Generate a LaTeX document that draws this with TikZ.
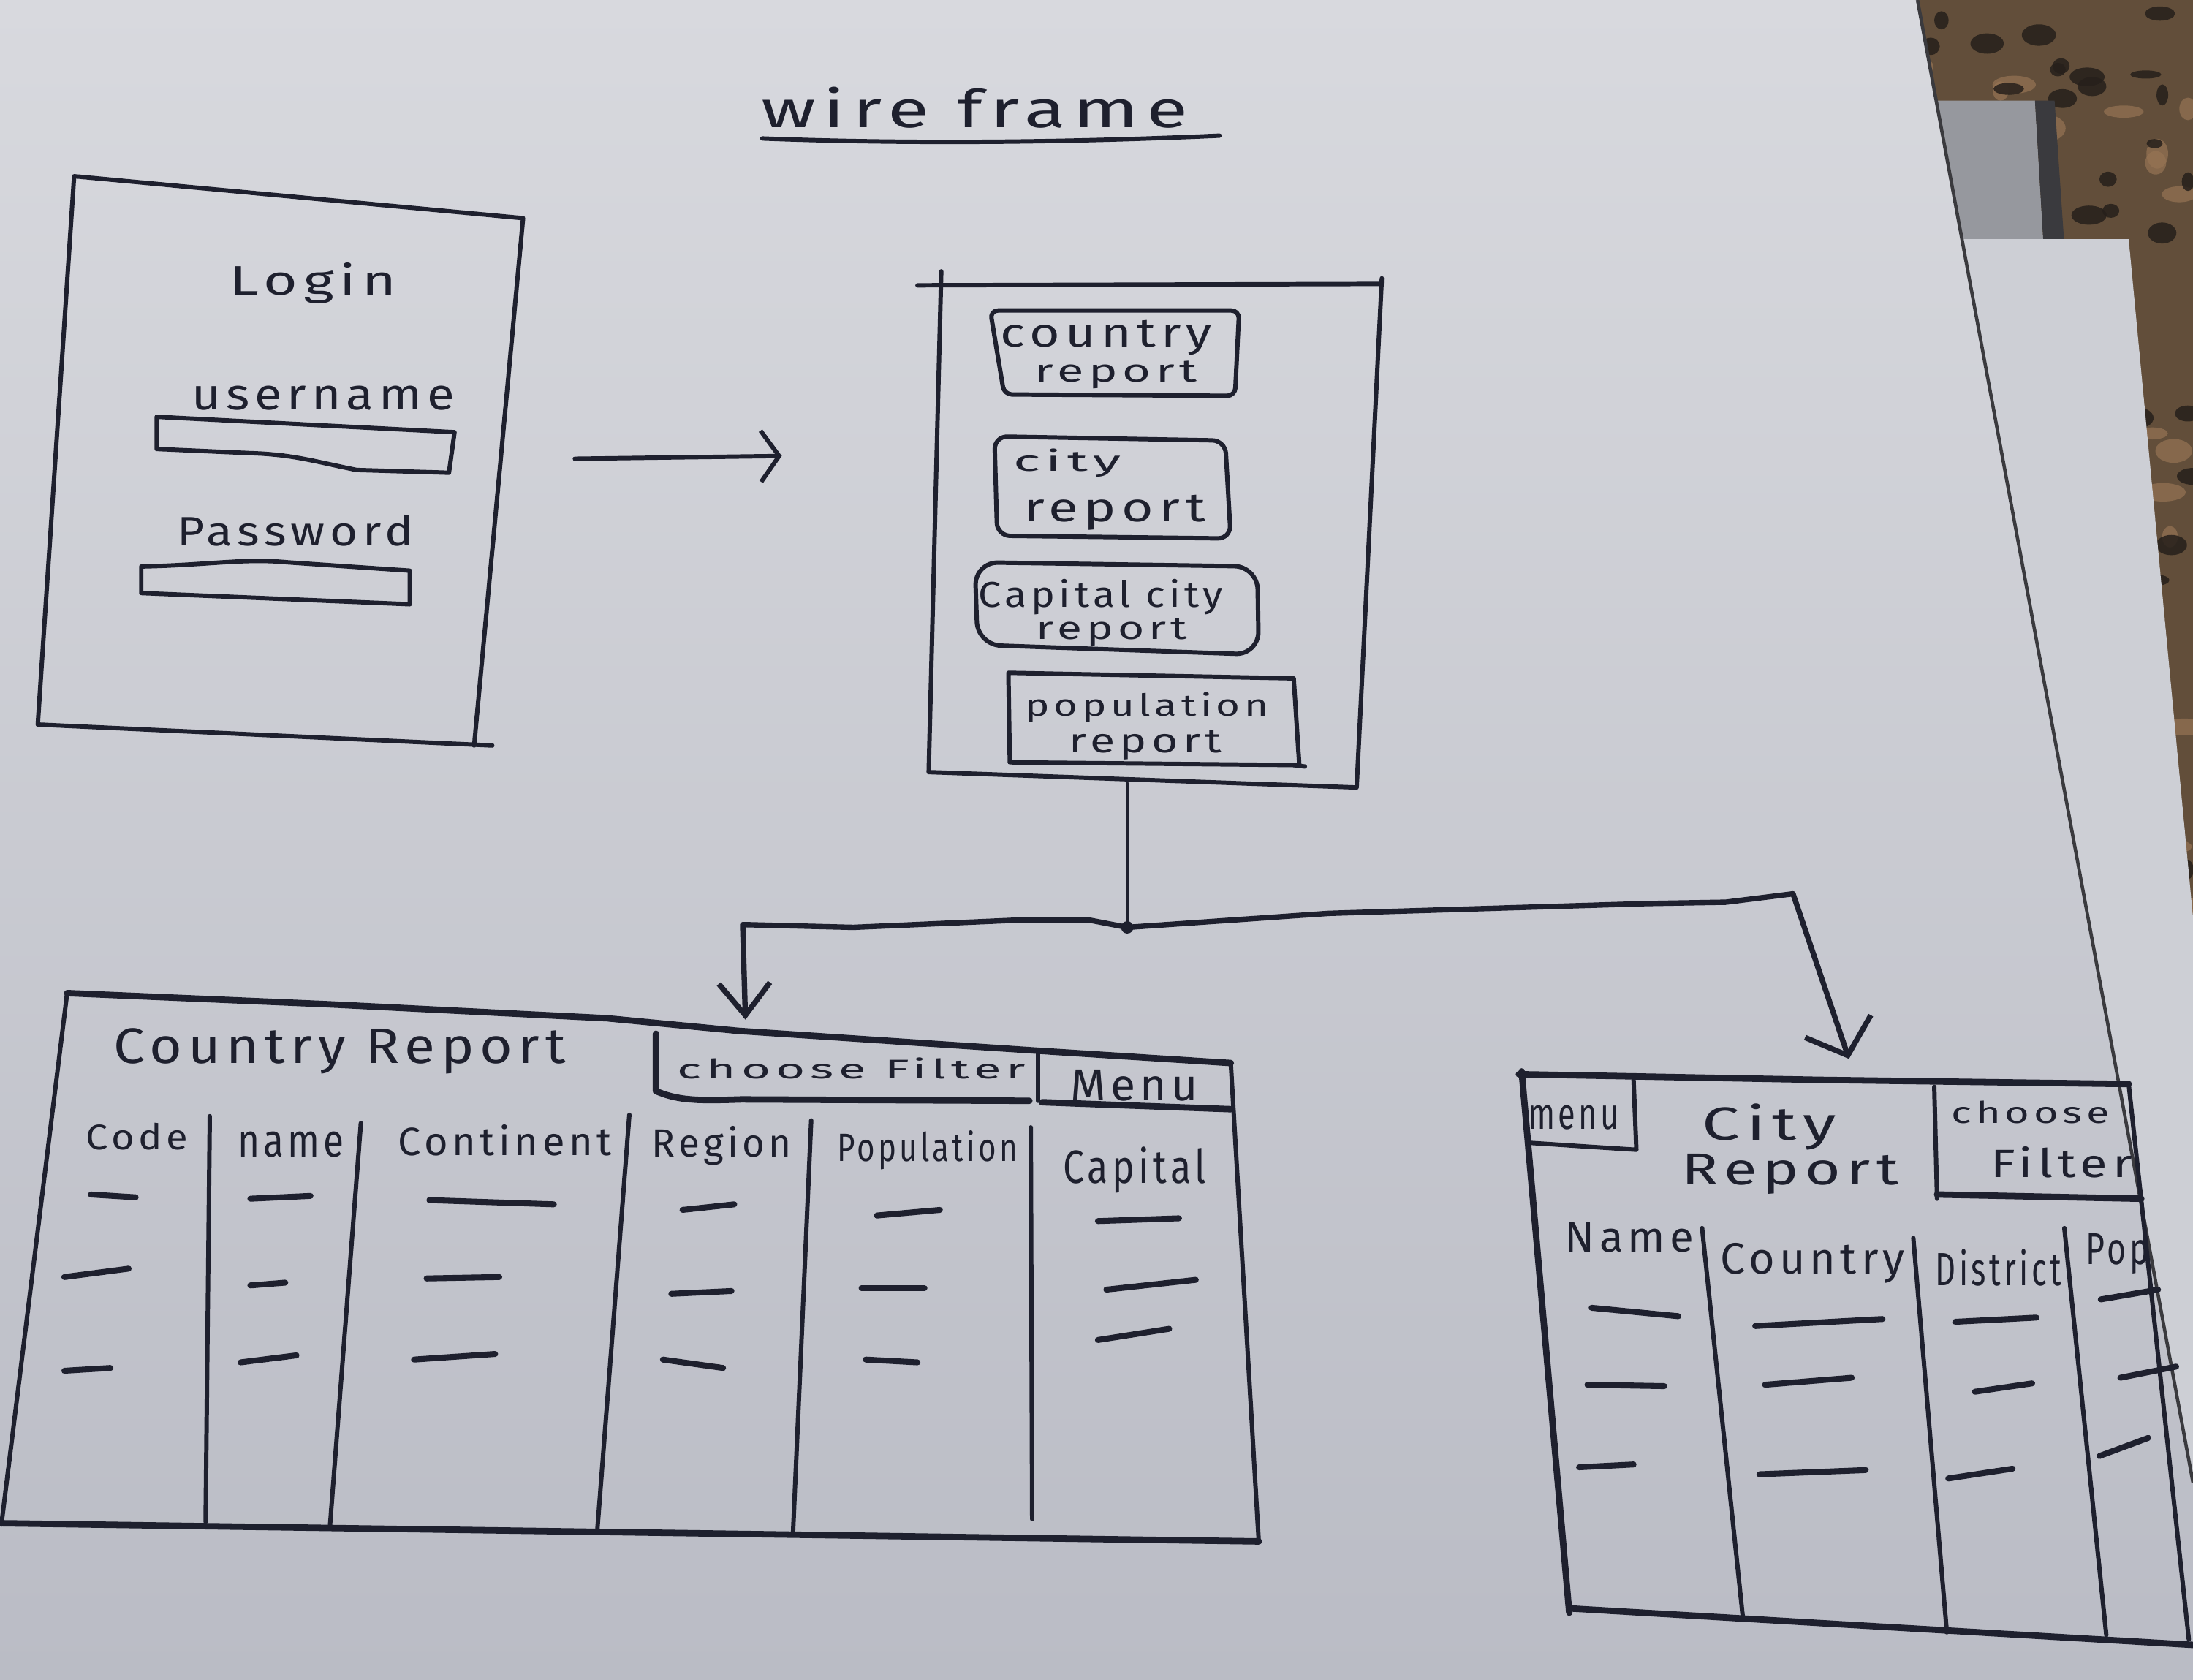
\documentclass[tikz,border=0pt]{standalone}
\usepackage{graphicx}
\usepackage{fontspec}
\setmainfont{Fira Sans}
\newfontfamily\handfont{Fira Sans}[LetterSpace=10]
\usetikzlibrary{arrows.meta}

% one unit of the drawing grid
\newlength\pxu
\setlength\pxu{0.019133cm}
% handwritten label squeezed into a given width and height (grid units)
\newcommand\hw[3]{\resizebox{#1\pxu}{#2\pxu}{\handfont #3}}

\definecolor{ink}{RGB}{30,32,46}
\definecolor{paperA}{RGB}{216,217,222}
\definecolor{paperB}{RGB}{186,188,197}
\definecolor{paperC}{RGB}{205,207,213}
\definecolor{granite}{RGB}{98,78,58}
\definecolor{granitedark}{RGB}{38,32,27}
\definecolor{granitelight}{RGB}{150,116,84}
\definecolor{stripgray}{RGB}{150,152,158}
\definecolor{edgegray}{RGB}{58,58,62}

\begin{document}
\begin{tikzpicture}[x=0.019133cm, y=-0.019133cm,
  pen/.style={draw=ink, line width=1.7pt, line cap=round, line join=round},
  heavypen/.style={pen, line width=2.5pt},
  hand/.style={inner sep=0pt, outer sep=0pt, text=ink, anchor=base},
  smallbarb/.style={-{Straight Barb[length=0.25cm, width=0.7cm]}},
  downbarb/.style={-{Straight Barb[length=0.44cm, width=0.7cm]}},
  widebarb/.style={-{Straight Barb[length=0.42cm, width=0.95cm]}}
]
\useasboundingbox (0,0) rectangle (1568,1201);

% ---------- countertop and the sheets underneath ----------
\fill[granite] (1340,0) rectangle (1568,1201);
\begin{scope}
  \clip (1340,0) rectangle (1568,760);
  \pgfmathsetseed{42}
  \foreach \i in {1,...,70}
    \fill[granitelight, opacity=0.7] ({1340+228*rnd},{760*rnd}) ellipse ({(3+6*rnd)*1pt} and {(2+4*rnd)*1pt});
  \foreach \i in {1,...,110}
    \fill[granitedark, opacity=0.85] ({1340+228*rnd},{760*rnd}) ellipse ({(2+5*rnd)*1pt} and {(1.5+3*rnd)*1pt});
\end{scope}
\fill[stripgray] (1375,72) -- (1455,72) -- (1462,190) -- (1375,190) -- cycle;
\fill[edgegray] (1455,72) -- (1469,72) -- (1477,190) -- (1462,190) -- cycle;
\fill[paperC] (1380,171) -- (1522,171) -- (1568,656) -- (1568,1201) -- (1380,1201) -- cycle;

% ---------- main sheet ----------
\shade[top color=paperA, bottom color=paperB]
  (0,0) -- (1371,0) -- (1568,1060) -- (1568,1201) -- (0,1201) -- cycle;
\draw[edgegray, line width=1.3pt] (1371,0) -- (1568,1060);

% ---------- title ----------
\node[hand] (title) at (697,91) {\hw{305}{29}{wire frame}};
\draw[pen] (545,99) .. controls (650,103) and (760,102) .. (872,97);

% ---------- login screen ----------
\draw[pen] (352,533) -- (27,518) -- (53,126) -- (374,156) -- (339,533);
\node[hand] (login) at (224,211) {\hw{119}{23}{Login}};
\node[hand] (username) at (231,293) {\hw{188}{17}{username}};
\draw[pen] (112,298) -- (325,309) -- (321,338) -- (255,336)
  .. controls (225,330) and (210,325) .. (180,324) -- (112,321) -- cycle;
\node[hand] (password) at (211,390) {\hw{169}{22}{Password}};
\draw[pen] (101,405) .. controls (150,404) and (175,399) .. (205,402)
  -- (293,408) -- (293,432) -- (101,424) -- cycle;

\coordinate (loginout) at (411,328);
\coordinate (menuin) at (559,326);
\draw[pen, smallbarb] (loginout) -- (menuin);

% ---------- main menu ----------
\draw[pen] (656,204) -- (988,203);
\draw[pen] (673,194) -- (664,552) -- (970,563) -- (988,199);

\draw[pen, rounded corners=3pt] (708,222) -- (886,222) -- (883,283) -- (718,282) -- cycle;
\node[hand] (btncountry) at (791,248) {\hw{151}{19}{country}};
\node[hand] (btncountryb) at (798,273) {\hw{116}{15}{report}};

\draw[pen, rounded corners=5pt] (711,312) -- (876,315) -- (880,385) -- (713,383) -- cycle;
\node[hand] (btncity) at (763,337) {\hw{77}{16}{city}};
\node[hand] (btncityb) at (797,373) {\hw{130}{19}{report}};

\draw[pen, rounded corners=9pt] (697,402) -- (899,405) -- (900,468) -- (699,461) -- cycle;
\node[hand] (btncapital) at (787,434) {\hw{175}{20}{Capital city}};
\node[hand] (btncapitalb) at (795,457) {\hw{108}{15}{report}};

\draw[pen] (721,481) -- (925,485) -- (929,547) -- (722,545) -- cycle;
\draw[pen] (925,547) -- (933,548);
\node[hand] (btnpop) at (820,512) {\hw{174}{17}{population}};
\node[hand] (btnpopb) at (819,538) {\hw{109}{16}{report}};

% ---------- branching connector ----------
\coordinate (menuout) at (806,560);
\coordinate (split) at (806,663);
\coordinate (leftturn) at (531,661);
\coordinate (countryin) at (533,729);
\coordinate (rightturn) at (1282,639);
\coordinate (cityin) at (1322,757);
\draw[pen, line width=1.3pt] (menuout) -- (split);
\draw[pen, line width=2.1pt, downbarb] (split) -- (780,658) -- (723,658) -- (610,663)
  -- (leftturn) -- (countryin);
\draw[pen, line width=2.1pt, widebarb] (split) -- (950,653) -- (1177,646) -- (1234,645)
  -- (rightturn) -- (cityin);
\fill[ink] (split) circle (2.4pt);

% ---------- country report screen ----------
\draw[heavypen] (48,710) -- (235,718) -- (434,728) -- (528,737) -- (739,751) -- (880,760);
\draw[pen] (880,760) -- (900,1102);
\draw[heavypen] (0,1089) -- (900,1102);
\draw[pen] (48,710) -- (1,1090);
\draw[heavypen] (469,739) -- (469,780)
  .. controls (485,787) and (500,787) .. (530,786) -- (736,787);
\draw[pen] (742,753) -- (742,787);
\draw[heavypen] (745,788) -- (880,793);

\node[hand] (crtitle) at (243,760) {\hw{323}{25}{Country Report}};
\node[hand] (crfilter) at (609,771) {\hw{249}{15}{choose Filter}};
\node[hand] (crmenu) at (811,787) {\hw{91}{22}{Menu}};

\node[hand] (hcode) at (98,822) {\hw{73}{19}{Code}};
\node[hand] (hname) at (208,827) {\hw{76}{18}{name}};
\node[hand] (hcont) at (361,826) {\hw{153}{22}{Continent}};
\node[hand] (hregion) at (516,827) {\hw{100}{22}{Region}};
\node[hand] (hpop) at (663,830) {\hw{129}{22}{Population}};
\node[hand] (hcap) at (811,846) {\hw{102}{26}{Capital}};

\draw[pen] (150,798) -- (147,1088);
\draw[pen] (258,803) -- (236,1090);
\draw[pen] (450,797) -- (427,1095);
\draw[pen] (580,801) -- (567,1096);
\draw[pen] (737,806) -- (738,1086);

\foreach \a/\b/\c/\d in {
  65/854/97/856, 46/913/92/907, 46/980/79/978,
  179/857/222/855, 179/919/204/917, 172/974/212/969,
  307/858/396/861, 305/914/357/913, 296/972/354/968,
  488/865/525/861, 480/925/523/923, 474/972/517/978,
  627/869/672/865, 616/921/661/921, 619/972/656/974,
  785/873/843/871, 791/922/855/915, 785/958/836/950}
  \draw[pen, line width=2.3pt] (\a,\b) -- (\c,\d);

% ---------- city report screen ----------
\draw[heavypen] (1086,768) -- (1300,772) -- (1522,775);
\draw[heavypen] (1088,766) -- (1122,1153);
\draw[heavypen] (1124,1150) -- (1568,1176);
\draw[pen] (1522,775) -- (1565,1172);
\draw[pen] (1168,772) -- (1170,822) -- (1093,817);
\draw[pen] (1383,777) -- (1385,857);
\draw[heavypen] (1385,854) -- (1531,857);

\node[hand] (ctmenu) at (1125,807) {\hw{65}{17}{menu}};
\node[hand] (cttitle) at (1265,815) {\hw{96}{26}{City}};
\node[hand] (cttitleb) at (1280,847) {\hw{155}{22}{Report}};
\node[hand] (ctfilter) at (1452,803) {\hw{113}{16}{choose}};
\node[hand] (ctfilterb) at (1474,842) {\hw{101}{22}{Filter}};

\node[hand] (cname) at (1165,895) {\hw{92}{21}{Name}};
\node[hand] (ccountry) at (1296,911) {\hw{132}{22}{Country}};
\node[hand] (cdistrict) at (1429,919) {\hw{90}{26}{District}};
\node[hand] (cpop) at (1514,904) {\hw{45}{22}{Pop}};

\draw[pen] (1217,878) -- (1246,1155);
\draw[pen] (1368,885) -- (1392,1167);
\draw[pen] (1476,878) -- (1506,1169);

\foreach \a/\b/\c/\d in {
  1138/935/1200/941, 1135/990/1190/991, 1129/1049/1168/1047,
  1255/948/1346/943, 1262/990/1324/985, 1258/1054/1334/1051,
  1398/945/1456/942, 1412/995/1453/989, 1393/1057/1439/1050,
  1502/929/1543/922, 1516/985/1556/977, 1501/1041/1536/1028}
  \draw[pen, line width=2.3pt] (\a,\b) -- (\c,\d);
\end{tikzpicture}
\end{document}
